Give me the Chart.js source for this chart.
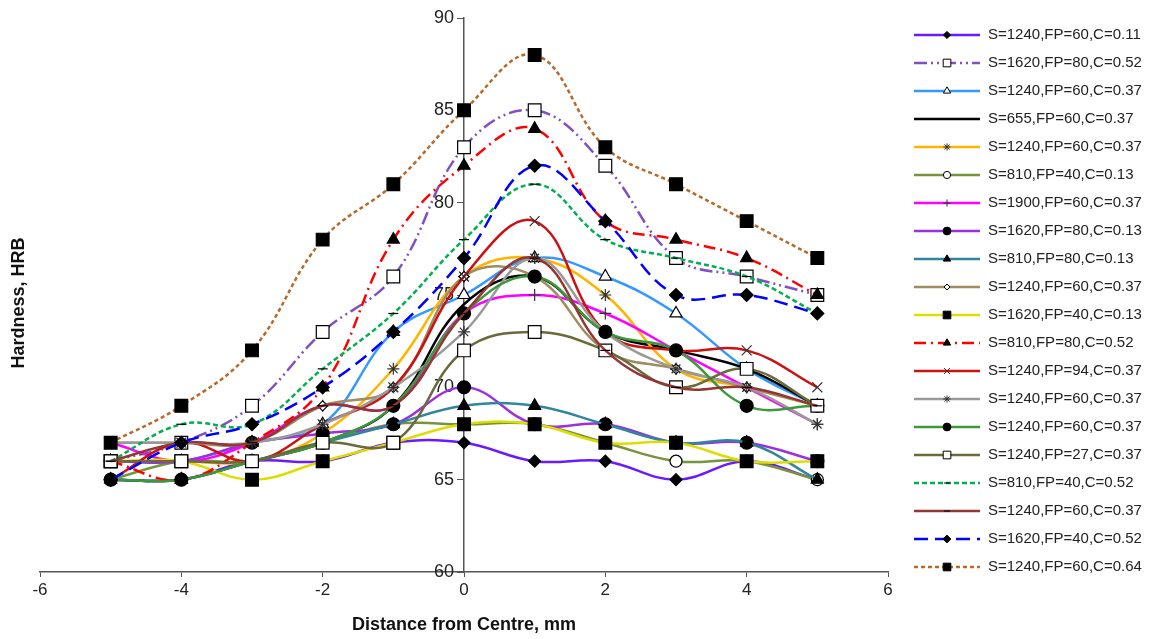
<!DOCTYPE html>
<html>
<head>
<meta charset="utf-8">
<script src="https://cdn.jsdelivr.net/npm/chart.js@4.4.1/dist/chart.umd.min.js"></script>
<style>
  html, body { margin: 0; padding: 0; background: #fff; }
  #wrap { width: 1158px; height: 639px; }
</style>
</head>
<body>
<div id="wrap"><canvas id="mychart"></canvas></div>
<script>
const xs = [-5, -4, -3, -2, -1, 0, 1, 2, 3, 4, 5];

const names = [
  'S=1240,FP=60,C=0.11', 'S=1620,FP=80,C=0.52', 'S=1240,FP=60,C=0.37', 'S=655,FP=60,C=0.37',
  'S=1240,FP=60,C=0.37', 'S=810,FP=40,C=0.13', 'S=1900,FP=60,C=0.37', 'S=1620,FP=80,C=0.13',
  'S=810,FP=80,C=0.13', 'S=1240,FP=60,C=0.37', 'S=1620,FP=40,C=0.13', 'S=810,FP=80,C=0.52',
  'S=1240,FP=94,C=0.37', 'S=1240,FP=60,C=0.37', 'S=1240,FP=60,C=0.37', 'S=1240,FP=27,C=0.37',
  'S=810,FP=40,C=0.52', 'S=1240,FP=60,C=0.37', 'S=1620,FP=40,C=0.52', 'S=1240,FP=60,C=0.64'
];

// hardness values, one array per series, at xs
const s1  = [65, 65, 66, 66, 67, 67, 66, 66, 65, 66, 65];
const s2  = [66, 67, 69, 73, 76, 83, 85, 82, 77, 76, 75];
const s3  = [66, 66, 67, 68, 73, 75, 77, 76, 74, 71, 69];
const s4  = [65, 65, 66, 67, 69, 74.5, 76, 73, 72, 71, 69];
const s5  = [66, 66, 66, 67.5, 71, 76, 77, 75, 71, 70, 69];
const s6  = [65, 66, 66, 67, 68, 68, 68, 67, 66, 66, 65];
const s7  = [67, 66, 67, 69, 69, 74, 75, 74, 72, 70, 68];
const s8  = [66, 66, 67, 67.5, 68, 70, 68, 68, 67, 67, 66];
const s9  = [65, 65, 66, 67, 68, 69, 69, 68, 67, 67, 65];
const s10 = [67, 67, 67, 69, 70, 76, 76, 72, 71, 70, 69];
const s11 = [66, 66, 65, 66, 67, 68, 68, 67, 67, 66, 66];
const s12 = [66, 65, 67, 70, 78, 82, 84, 79, 78, 77, 75];
const s13 = [65, 67, 66, 68, 70, 76, 79, 73, 72, 72, 70];
const s14 = [67, 67, 67, 68, 70, 73, 77, 73, 71, 70, 68];
const s15 = [65, 65, 66, 67, 69, 74, 76, 73, 72, 69, 69];
const s16 = [66, 66, 66, 67, 67, 72, 73, 72, 70, 71, 69];
const s17 = [66, 68, 68, 71, 74, 78, 81, 78, 77, 76, 74];
const s18 = [66, 67, 67, 69, 69, 74, 77, 72, 70, 70, 69];
const s19 = [65, 67, 68, 70, 73, 77, 82, 79, 75, 75, 74];
const s20 = [67, 69, 72, 78, 81, 85, 88, 83, 81, 79, 77];

const allValues = [s1, s2, s3, s4, s5, s6, s7, s8, s9, s10, s11, s12, s13, s14, s15, s16, s17, s18, s19, s20];

// colour, dash, point style, point fill, radius
const looks = [
  ['#6a1aff', [], 'rectRot', '#000', 6],
  ['#8050c0', [13, 4, 2, 4, 2, 4], 'rect', '#fff', 9],
  ['#3399ff', [], 'triangle', '#fff', 7],
  ['#000000', [], 'circle', '#000', 0],
  ['#ffb400', [], 'star', '#000', 6],
  ['#77933c', [], 'circle', '#fff', 6],
  ['#ff00ff', [], 'cross', '#000', 6],
  ['#9b30e0', [], 'circle', '#000', 6.5],
  ['#31859c', [], 'triangle', '#000', 7],
  ['#a08c60', [], 'rectRot', '#fff', 5],
  ['#dddd00', [], 'rect', '#000', 9],
  ['#ff0000', [12, 5, 2, 5], 'triangle', '#000', 7],
  ['#cc1111', [], 'crossRot', '#000', 7],
  ['#999999', [], 'star', '#000', 6],
  ['#3a9a3a', [], 'circle', '#000', 6.5],
  ['#6b6a3b', [], 'rect', '#fff', 9],
  ['#00b050', [5, 3], 'line', '#000', 5],
  ['#943634', [], 'line', '#000', 5],
  ['#0000ff', [14, 7], 'rectRot', '#000', 6.5],
  ['#b8692a', [4, 3], 'rect', '#000', 9]
];

const datasets = allValues.map((vals, i) => ({
  label: names[i],
  data: xs.map((x, j) => ({ x: x, y: vals[j] })),
  borderColor: looks[i][0],
  backgroundColor: looks[i][0],
  borderDash: looks[i][1],
  borderWidth: 2.5,
  tension: 0.4,
  fill: false,
  pointStyle: looks[i][2],
  pointBackgroundColor: looks[i][3],
  pointBorderColor: (looks[i][2] === 'star' || looks[i][2] === 'crossRot' || looks[i][2] === 'cross') ? '#333' : '#000',
  pointBorderWidth: 1.2,
  pointRadius: looks[i][4],
  pointHoverRadius: looks[i][4],
  order: -i
}));

const sideLegend = {
  id: 'sideLegend',
  afterDraw(chart) {
    const ctx = chart.ctx;
    ctx.save();
    ctx.translate(19, 303);
    ctx.rotate(-Math.PI / 2);
    ctx.font = 'bold 18px "Liberation Sans", Arial, sans-serif';
    ctx.fillStyle = '#111';
    ctx.textAlign = 'center';
    ctx.textBaseline = 'middle';
    ctx.fillText('Hardness, HRB', 0, 0);
    ctx.restore();

    chart.data.datasets.forEach((ds, i) => {
      const y = 35 + i * 28;
      ctx.save();
      ctx.strokeStyle = ds.borderColor;
      ctx.lineWidth = ds.borderWidth;
      ctx.setLineDash(ds.borderDash);
      ctx.beginPath();
      ctx.moveTo(914, y);
      ctx.lineTo(980, y);
      ctx.stroke();
      ctx.setLineDash([]);
      if (ds.pointRadius > 0) {
        ctx.fillStyle = ds.pointBackgroundColor;
        ctx.strokeStyle = ds.pointBorderColor;
        ctx.lineWidth = 1;
        Chart.helpers.drawPoint(ctx, { pointStyle: ds.pointStyle, radius: ds.pointRadius * 0.6, rotation: 0, borderWidth: 1 }, 947, y);
      }
      ctx.fillStyle = '#222';
      ctx.font = '15px "Liberation Sans", Arial, sans-serif';
      ctx.textAlign = 'left';
      ctx.textBaseline = 'middle';
      ctx.fillText(ds.label, 988, y);
      ctx.restore();
    });
  }
};

new Chart(document.getElementById('mychart').getContext('2d'), {
  type: 'line',
  data: { datasets: datasets },
  options: {
    responsive: true,
    maintainAspectRatio: false,
    animation: false,
    layout: { padding: { left: 40, right: 270, top: 18, bottom: 3 } },
    plugins: { legend: { display: false }, tooltip: { enabled: false } },
    scales: {
      x: {
        type: 'linear',
        min: -6,
        max: 6,
        ticks: { stepSize: 2, color: '#222', font: { size: 17, family: '"Liberation Sans", Arial, sans-serif' }, padding: 3 },
        grid: { drawOnChartArea: false, drawTicks: true, tickLength: 5, color: '#555' },
        border: { display: true, color: '#555', width: 1.5 },
        title: { display: true, text: 'Distance from Centre, mm', color: '#111', padding: { top: 11, bottom: 0 },
                 font: { size: 18, weight: 'bold', family: '"Liberation Sans", Arial, sans-serif' } }
      },
      y: {
        type: 'linear',
        position: { x: 0 },
        min: 60,
        max: 90,
        ticks: { stepSize: 5, color: '#222', font: { size: 18, family: '"Liberation Sans", Arial, sans-serif' },
                 callback: (v) => v + '  ' },
        grid: { drawOnChartArea: false, drawTicks: true, tickLength: 6, color: '#555' },
        border: { display: true, color: '#555', width: 1.5 }
      }
    }
  },
  plugins: [sideLegend]
});
</script>
</body>
</html>
